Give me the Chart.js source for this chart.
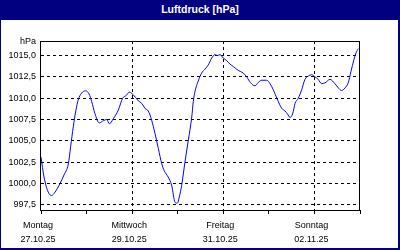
<!DOCTYPE html>
<html>
<head>
<meta charset="utf-8">
<script src="https://cdn.jsdelivr.net/npm/chart.js@4/dist/chart.umd.min.js"></script>
<style>
  body { margin: 0; background: #fff; }
  #wrap { position: relative; width: 400px; height: 250px; overflow: hidden; }
  #myChart { position: absolute; left: 0; top: 0; }
  #title {
    position: absolute; left: 0; top: 0; width: 400px; height: 20px;
    background: #000080; color: #fff; text-align: center;
    font: bold 10.5px "Liberation Sans", Arial, sans-serif; line-height: 19px;
  }
  #frame {
    position: absolute; left: 0; top: 0; width: 400px; height: 250px; box-sizing: border-box;
    border-left: 1px solid #000080; border-right: 2px solid #000080; border-bottom: 2px solid #000080;
    pointer-events: none;
  }
</style>
</head>
<body>
<div id="wrap">
  <canvas id="myChart" width="400" height="250"></canvas>
  <div id="title">Luftdruck [hPa]</div>
  <div id="frame"></div>
</div>
<script>
// hours since Montag 27.10.25 00:00
var hours = [0, 1.6, 3.8, 5.6, 7.4, 10, 12.1, 14.4, 15.6, 17, 18.4, 19.6, 21.4, 23.5, 25.3, 26.7,
  28.4, 30.7, 32.8, 34.6, 36, 38.1, 40.7, 43, 44.8, 46.5, 48.6, 51.2, 53, 54.8, 56.5, 58.3,
  60, 61.8, 63.6, 64.9, 67, 68.8, 70.6, 71.8, 72.8, 74.1, 75.8, 77.6, 79.4, 80.2, 81.1, 82.8,
  84.6, 86.4, 88.1, 89.9, 91.6, 92.8, 94.3, 96, 97.8, 99.5, 101.3, 103.9, 106.5, 108.3, 110.4,
  112.7, 114.4, 116.2, 118.9, 120.6, 122.3, 124.4, 126.8, 128.5, 129.8, 131.1, 132.5, 133.8,
  135.5, 137.3, 139, 140.8, 142.5, 144.3, 146, 147.8, 149.6, 152.2, 154.8, 156.6, 158.3,
  160.1, 161.8, 163.2, 164.8, 165.9, 167.1];
var pressure = [1003.1, 1000.75, 999.0, 998.6, 999.0, 1000.0, 1001.0, 1002.3, 1004.3, 1006.65,
  1008.6, 1009.8, 1010.6, 1010.86, 1010.5, 1009.6, 1008.2, 1007.1, 1007.36, 1007.5, 1007.0,
  1007.6, 1008.6, 1010.0, 1010.3, 1010.7, 1010.4, 1009.7, 1009.4, 1008.8, 1008.5, 1007.4,
  1005.9, 1004.1, 1002.3, 1001.5, 1000.75, 999.8, 997.8, 997.7, 998.4, 999.8, 1002.5, 1005.1,
  1007.8, 1009.6, 1010.8, 1012.0, 1012.95, 1013.4, 1013.9, 1014.7, 1015.1, 1015.0, 1015.1,
  1014.7, 1014.4, 1014.0, 1013.7, 1013.25, 1012.95, 1012.5, 1011.8, 1011.45, 1011.84, 1012.1,
  1012.1, 1011.7, 1011.0, 1009.9, 1008.8, 1008.5, 1008.15, 1007.75, 1008.15, 1009.4, 1010.0,
  1011.0, 1012.2, 1012.6, 1012.75, 1012.5, 1012.2, 1011.7, 1011.8, 1012.2, 1011.7, 1011.2,
  1010.9, 1011.2, 1011.8, 1013.1, 1014.5, 1015.3, 1015.8];

var dayNames = ["Montag", "Mittwoch", "Freitag", "Sonntag"];
var dayDates = ["27.10.25", "29.10.25", "31.10.25", "02.11.25"];
var yTicks = [997.5, 1000, 1002.5, 1005, 1007.5, 1010, 1012.5, 1015];

var points = hours.map(function (h, i) { return { x: h, y: pressure[i] }; });

Chart.defaults.font.family = '"Liberation Sans", Arial, sans-serif';
Chart.defaults.font.size = 9;
Chart.defaults.color = "#000";

// frame round the plot + unit label
var framePlugin = {
  id: "frame",
  afterDraw: function (chart) {
    var a = chart.chartArea, c = chart.ctx;
    c.save();
    c.strokeStyle = "#000";
    c.lineWidth = 1;
    c.strokeRect(Math.round(a.left) - 0.5, Math.round(a.top) + 0.5,
      Math.round(a.right - a.left), Math.round(a.bottom - a.top));
    c.fillStyle = "#000";
    c.font = '9px "Liberation Sans", Arial, sans-serif';
    c.textAlign = "right";
    c.textBaseline = "middle";
    c.fillText("hPa", a.left - 5, a.top + 1);
    c.restore();
  }
};

var ctx = document.getElementById("myChart").getContext("2d");
var myChart = new Chart(ctx, {
  type: "line",
  data: {
    datasets: [
      {
        data: points,
        borderColor: "#0000ff",
        borderWidth: 1,
        pointRadius: 0,
        fill: false,
        cubicInterpolationMode: "monotone"
      }
    ]
  },
  options: {
    responsive: false,
    animation: false,
    layout: { padding: { left: 0, top: 41, right: 40, bottom: 0 } },
    plugins: {
      legend: { display: false },
      tooltip: { enabled: false }
    },
    scales: {
      x: {
        type: "linear",
        min: 0,
        max: 168,
        afterFit: function (s) { s.height = 40; },
        border: { display: false, dash: [3, 3] },
        grid: {
          color: function (c) {
            var v = c.tick ? c.tick.value : 0;
            return (v % 48 === 0 && v > 0 && v < 168) ? "#000" : "rgba(0,0,0,0)";
          },
          tickColor: "#000",
          tickLength: 4,
          lineWidth: 1
        },
        ticks: {
          stepSize: 24,
          autoSkip: false,
          maxRotation: 0,
          padding: 5,
          labelOffset: -3,
          font: { size: 9, lineHeight: 1.55 },
          callback: function (v) {
            if (v % 48 !== 0) return "";
            var i = v / 48;
            return i < dayNames.length ? [dayNames[i], dayDates[i]] : "";
          }
        }
      },
      y: {
        min: 996.9,
        max: 1016.7,
        afterFit: function (s) { s.width = 41; },
        afterBuildTicks: function (s) {
          s.ticks = yTicks.map(function (v) { return { value: v }; });
        },
        border: { display: false, dash: [3, 3] },
        grid: { color: "#000", drawTicks: false, lineWidth: 1 },
        ticks: {
          padding: 5,
          font: { size: 9 },
          callback: function (v) { return v.toFixed(1).replace(".", ","); }
        }
      }
    }
  },
  plugins: [framePlugin]
});
</script>
</body>
</html>
